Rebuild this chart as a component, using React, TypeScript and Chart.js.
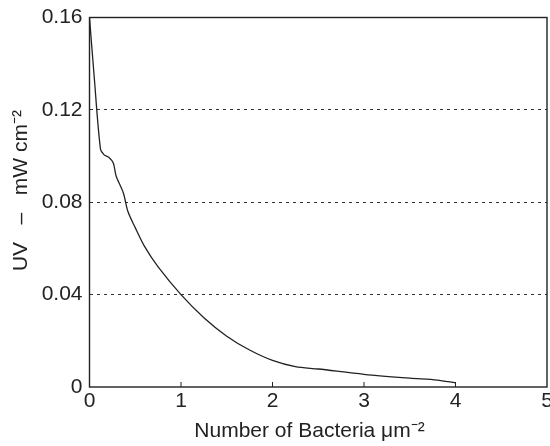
import React, { useEffect, useRef } from "react";
import { Chart, registerables } from "chart.js";

Chart.register(...registerables);

const bacteriaDensity = [0, 0.05, 0.12, 0.16, 0.21, 0.26, 0.29, 0.37, 0.42, 0.5, 0.6, 0.75, 1.0, 1.25, 1.5, 1.75, 2.0, 2.25, 2.5, 3.0, 3.5, 3.8, 4.0];
const uvIntensity = [0.16, 0.135, 0.103, 0.1005, 0.0995, 0.097, 0.0915, 0.084, 0.076, 0.069, 0.061, 0.052, 0.04, 0.03, 0.022, 0.016, 0.0115, 0.0088, 0.0078, 0.0055, 0.0038, 0.003, 0.0018];
const xTickValues = [0, 1, 2, 3, 4, 5];
const yTickValues = [0, 0.04, 0.08, 0.12, 0.16];
const xTitle = "Number of Bacteria μm⁻²   ";
const yTitle = "    UV   –   mW cm⁻²";

const FONT = "'Liberation Sans', Arial, Helvetica, sans-serif";
const INK = "#222";
const CANVAS_W = 566;

const framePlugin = {
  id: "frame",
  afterDatasetsDraw(chart: any) {
    const { ctx, chartArea } = chart;
    const xs = chart.scales.x;
    ctx.save();
    ctx.strokeStyle = INK;
    ctx.lineWidth = 1.4;
    ctx.strokeRect(chartArea.left, chartArea.top, chartArea.right - chartArea.left, chartArea.bottom - chartArea.top);
    ctx.lineWidth = 1;
    xs.ticks.forEach((t: any) => {
      const px = xs.getPixelForValue(t.value);
      if (px <= chartArea.left + 1 || px >= chartArea.right - 1) return;
      ctx.beginPath();
      ctx.moveTo(px, chartArea.bottom);
      ctx.lineTo(px, chartArea.bottom - 5);
      ctx.stroke();
    });
    ctx.restore();
  },
};

export default function App() {
  const ref = useRef<HTMLCanvasElement | null>(null);
  useEffect(() => {
    if (!ref.current) return;
    const chart = new Chart(ref.current, {
      type: "line",
      data: {
        datasets: [
          {
            data: bacteriaDensity.map((x, i) => ({ x, y: uvIntensity[i] })),
            borderColor: INK,
            borderWidth: 1.3,
            pointRadius: 0,
            tension: 0.3,
            fill: false,
          },
        ],
      },
      options: {
        animation: false,
        responsive: false,
        maintainAspectRatio: false,
        layout: { padding: { top: 16.5, right: CANVAS_W - 547, left: 0, bottom: 0 } },
        plugins: { legend: { display: false }, tooltip: { enabled: false } },
        scales: {
          x: {
            type: "linear",
            min: 0,
            max: 5,
            afterBuildTicks: (s: any) => {
              s.ticks = xTickValues.map((v) => ({ value: v }));
            },
            afterFit: (s: any) => {
              s.height = 59;
            },
            border: { display: false },
            grid: { display: false },
            ticks: {
              color: INK,
              font: { family: FONT, size: 21 },
              padding: -6,
              maxRotation: 0,
              callback: (v: any) => String(v),
            },
            title: {
              display: true,
              text: xTitle,
              color: INK,
              font: { family: FONT, size: 21 },
              padding: { top: 0, bottom: 2 },
            },
          },
          y: {
            type: "linear",
            min: 0,
            max: 0.16,
            afterBuildTicks: (s: any) => {
              s.ticks = yTickValues.map((v) => ({ value: v }));
            },
            afterFit: (s: any) => {
              s.width = 89.5;
            },
            border: { display: false, dash: [3, 4] },
            grid: {
              drawTicks: false,
              color: (c: any) => (c.tick && c.tick.value > 0.001 && c.tick.value < 0.159 ? "#333" : "rgba(0,0,0,0)"),
              lineWidth: 1,
            },
            ticks: {
              color: INK,
              font: { family: FONT, size: 21, lineHeight: 1 },
              padding: 7,
              callback: (v: any) => (v === 0 ? "0" : Number(v).toFixed(2)),
            },
            title: {
              display: true,
              text: yTitle,
              color: INK,
              font: { family: FONT, size: 21 },
              padding: { top: 9, bottom: 6 },
            },
          },
        },
      },
      plugins: [framePlugin],
    });
    return () => chart.destroy();
  }, []);
  return (
    <div style={{ position: "fixed", left: 0, top: 0, width: 550, height: 446, overflow: "hidden", background: "#fff" }}>
      <canvas ref={ref} width={CANVAS_W} height={446} style={{ width: CANVAS_W, height: 446 }} />
    </div>
  );
}
